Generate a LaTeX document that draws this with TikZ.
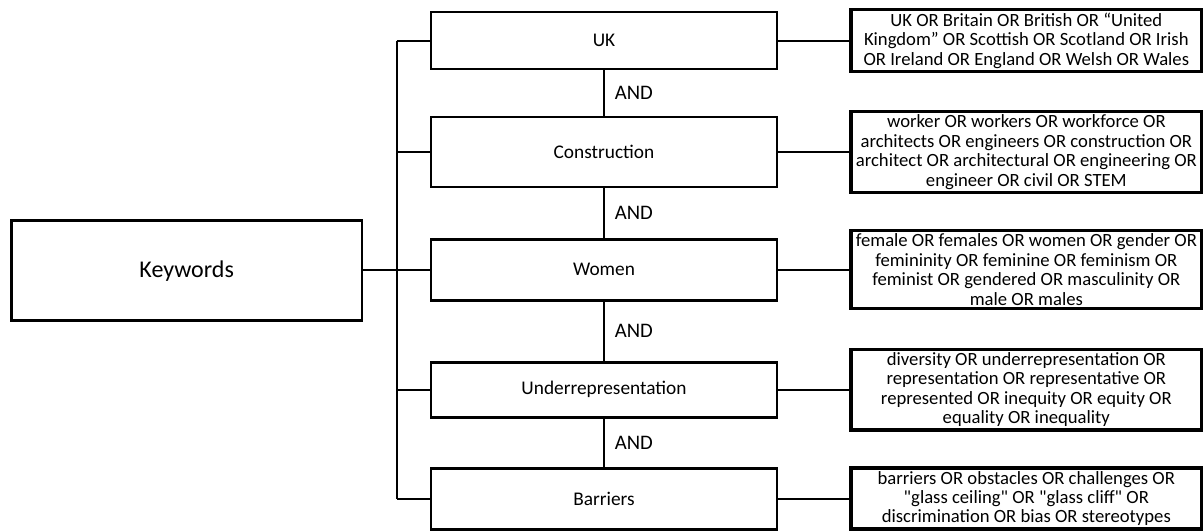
\documentclass[tikz,border=0pt]{standalone}
\usepackage{fontspec}
\setmainfont{Carlito}
\usetikzlibrary{positioning, calc}

\begin{document}
\begin{tikzpicture}[
    node distance=36pt and 52pt,
    kwbox/.style={draw, line width=2.2pt, outer sep=0pt, minimum width=263pt, minimum height=75pt,
                  font=\fontsize{18}{21}\selectfont},
    catbox/.style={draw, line width=2.2pt, outer sep=0pt, minimum width=259.5pt,
                   font=\fontsize{14.5}{17}\selectfont},
    termbox/.style={draw, line width=2.6pt, outer sep=0pt, minimum width=263pt, inner xsep=1pt,
                    inner ysep=2.3pt, align=center, font=\fontsize{14}{14.6}\selectfont},
    conn/.style={line width=1.5pt},
    andlbl/.style={right, font=\fontsize{15.5}{17}\selectfont, xshift=4pt},
  ]

  \useasboundingbox (0,0) rectangle (902.25pt,-398.25pt);

  % ── category boxes ──
  \node[catbox, minimum height=42.75pt] (uk) at (453pt,-30.4pt) {UK};
  \node[catbox, minimum height=52.5pt, below=36pt of uk] (con) {Construction};
  \node[catbox, minimum height=45.75pt, below=39pt of con] (wom) {Women};
  \node[catbox, minimum height=41.25pt, below=46.5pt of wom] (und) {Underrepresentation};
  \node[catbox, minimum height=45.75pt, below=38.25pt of und] (bar) {Barriers};

  % ── root ──
  \node[kwbox, left=51.75pt of wom, yshift=-1pt] (kw) {Keywords};
  \coordinate (trunk) at ($(kw.east)!0.5!(wom.west)$);

  % ── search terms ──
  \node[termbox, right=55.5pt of uk] (ukterms)
    {UK OR Britain OR British OR “United\\Kingdom” OR Scottish OR Scotland OR Irish\\OR Ireland OR England OR Welsh OR Wales};
  \node[termbox, right=55.5pt of con] (conterms)
    {worker OR workers OR workforce OR\\architects OR engineers OR construction OR\\architect OR architectural OR engineering OR\\engineer OR civil OR STEM};
  \node[termbox, right=55.5pt of wom] (womterms)
    {female OR females OR women OR gender OR\\femininity OR feminine OR feminism OR\\feminist OR gendered OR masculinity OR\\male OR males};
  \node[termbox, right=55.5pt of und] (undterms)
    {diversity OR underrepresentation OR\\representation OR representative OR\\represented OR inequity OR equity OR\\equality OR inequality};
  \node[termbox, right=55.5pt of bar] (barterms)
    {barriers OR obstacles OR challenges OR\\\textquotedbl glass ceiling\textquotedbl{} OR \textquotedbl glass cliff\textquotedbl{} OR\\discrimination OR bias OR stereotypes};

  % ── tree ──
  \draw[conn] (kw.east |- wom.west) -- (wom.west);
  \draw[conn] (trunk |- uk.west) -- (trunk |- bar.west);
  \foreach \n in {uk, con, und, bar}
    \draw[conn] (trunk |- \n.west) -- (\n.west);

  % ── AND links ──
  \draw[conn] (uk.south) -- node[andlbl] {AND} (con.north);
  \draw[conn] (con.south) -- node[andlbl] {AND} (wom.north);
  \draw[conn] (wom.south) -- node[andlbl] {AND} (und.north);
  \draw[conn] (und.south) -- node[andlbl] {AND} (bar.north);

  % ── term links ──
  \draw[conn] (uk.east) -- (ukterms.west);
  \draw[conn] (con.east) -- (conterms.west);
  \draw[conn] (wom.east) -- (womterms.west);
  \draw[conn] (und.east) -- (undterms.west);
  \draw[conn] (bar.east) -- (barterms.west);

\end{tikzpicture}
\end{document}
